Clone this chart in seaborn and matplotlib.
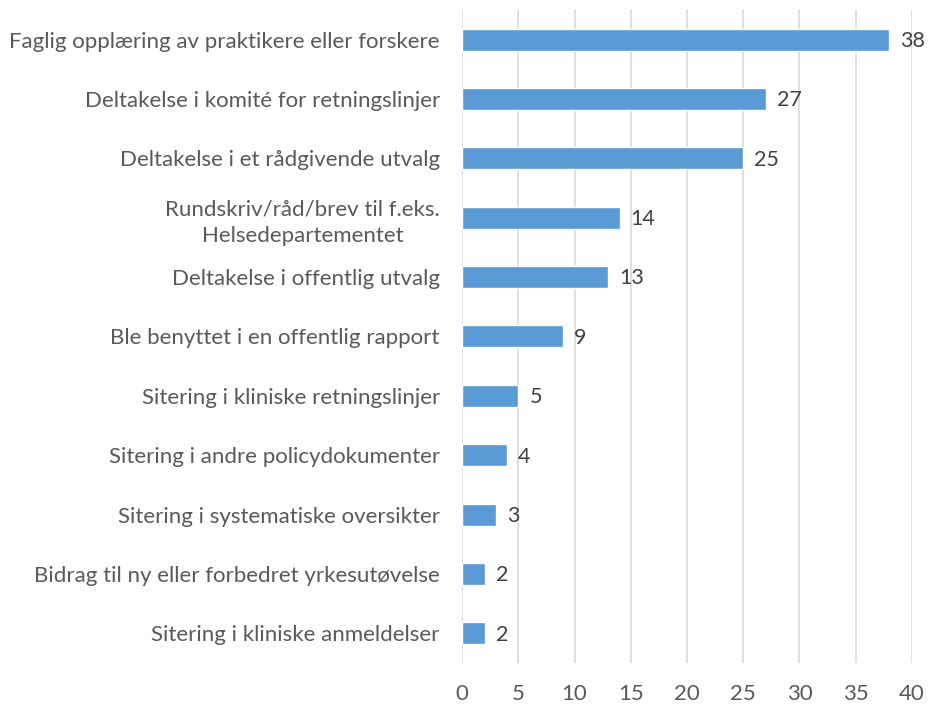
import matplotlib
matplotlib.use("Agg")
import matplotlib.pyplot as plt
import seaborn as sns
import pandas as pd

categories = [
    "Faglig opplæring av praktikere eller forskere",
    "Deltakelse i komité for retningslinjer",
    "Deltakelse i et rådgivende utvalg",
    "Rundskriv/råd/brev til f.eks.\nHelsedepartementet",
    "Deltakelse i offentlig utvalg",
    "Ble benyttet i en offentlig rapport",
    "Sitering i kliniske retningslinjer",
    "Sitering i andre policydokumenter",
    "Sitering i systematiske oversikter",
    "Bidrag til ny eller forbedret yrkesutøvelse",
    "Sitering i kliniske anmeldelser",
]
counts = [38, 27, 25, 14, 13, 9, 5, 4, 3, 2, 2]
x_ticks = [0, 5, 10, 15, 20, 25, 30, 35, 40]

df = pd.DataFrame({"kategori": categories, "antall": counts})

sns.set_style("white")
plt.rcParams["font.family"] = ["Lato", "DejaVu Sans"]
text_color = "#595959"
fsize = 16

fig = plt.figure(figsize=(9.3, 7.07), dpi=100)
ax = fig.add_axes([0.4968, 0.0622, 0.4838, 0.9238])

sns.barplot(data=df, x="antall", y="kategori", orient="h", color="#5B9BD5",
            saturation=1, width=0.37, ax=ax)

ax.set_xlim(0, 40)
ax.set_ylim(10.5, -0.5)
ax.set_xticks(x_ticks)
ax.xaxis.grid(True, color="#d9d9d9", linewidth=1.2)
ax.set_axisbelow(True)
for s in ax.spines.values():
    s.set_visible(False)
ax.set_xlabel("")
ax.set_ylabel("")
ax.tick_params(axis="y", length=0, pad=16, labelsize=fsize, labelcolor=text_color)
ax.tick_params(axis="x", length=0, pad=15, labelsize=fsize, labelcolor=text_color)
for lbl in ax.get_yticklabels():
    lbl.set_multialignment("center")
    lbl.set_linespacing(1.4)

for i, v in enumerate(counts):
    ax.annotate(str(v), (v, i), xytext=(8, -1), textcoords="offset points",
                va="center", ha="left", fontsize=fsize - 0.5, color="#404040")

fig.savefig("out.png", dpi=100)
